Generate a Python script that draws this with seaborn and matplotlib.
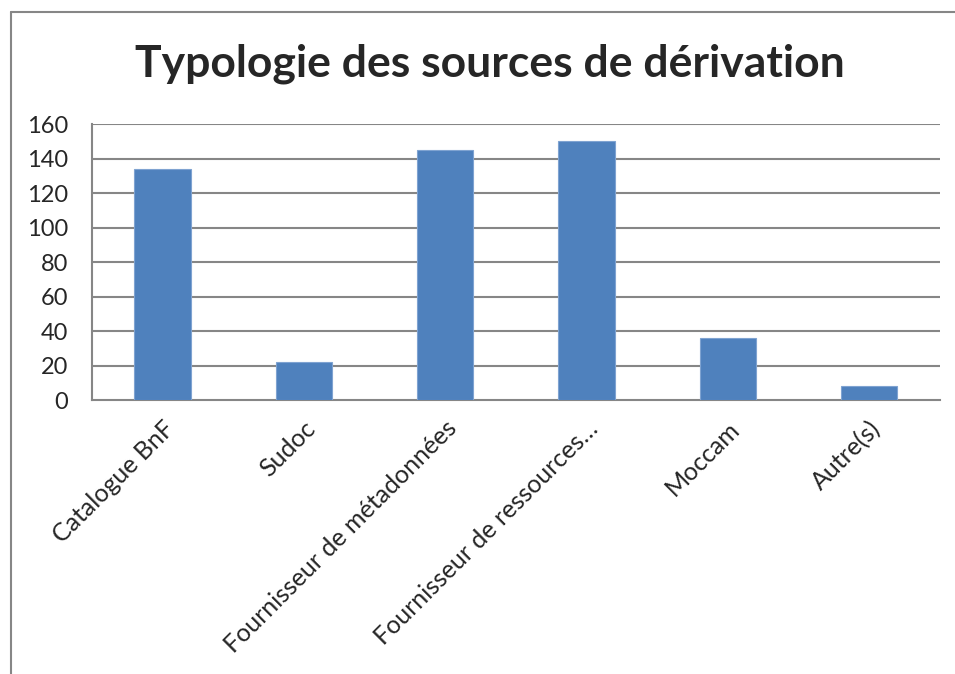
import matplotlib
matplotlib.use("Agg")
import matplotlib.pyplot as plt
import seaborn as sns
import pandas as pd
import numpy as np
from matplotlib.lines import Line2D

categories = ["Catalogue BnF", "Sudoc", "Fournisseur de métadonnées",
              "Fournisseur de ressources…", "Moccam", "Autre(s)"]
values = [134, 22, 145, 150, 36, 8]
y_ticks = [0, 20, 40, 60, 80, 100, 120, 140, 160]

sns.set_style("white")
plt.rcParams['font.family'] = ['Lato', 'DejaVu Sans']

df = pd.DataFrame({"source": categories, "count": values})

fig = plt.figure(figsize=(9.55, 6.74), dpi=100)
ax = fig.add_axes([0.0963, 0.4065, 0.8877, 0.4095])

grid_col = "#868686"
sns.barplot(data=df, x="source", y="count", color="#4F81BD", width=0.4,
            edgecolor="#7FA3D1", linewidth=0.8, saturation=1, ax=ax, zorder=3)

ax.set_ylim(0, 160)
ax.set_xlim(-0.5, len(categories) - 0.5)
ax.set_yticks(y_ticks)
ax.set_yticklabels([str(t) for t in y_ticks], fontsize=17)
for t in y_ticks[1:]:
    ax.axhline(t, color=grid_col, lw=1.5, zorder=1)

ax.set_xticks(range(len(categories)))
ax.set_xticklabels(categories, rotation=45, ha="right", rotation_mode="anchor", fontsize=18)
ax.set_xticks(np.arange(-0.5, len(categories)), minor=True)
ax.tick_params(axis="x", which="major", length=0, pad=12)
ax.tick_params(axis="x", which="minor", length=5, width=1.5, color=grid_col, direction="out")
ax.tick_params(axis="y", length=5, width=1.5, color=grid_col, direction="out", pad=12)
ax.set_xlabel("")
ax.set_ylabel("")

for s in ["top", "right"]:
    ax.spines[s].set_visible(False)
for s in ["left", "bottom"]:
    ax.spines[s].set_color(grid_col)
    ax.spines[s].set_linewidth(1.5)

fig.text(0.513, 0.906, "Typologie des sources de dérivation", ha="center", va="center",
         fontsize=32, fontweight="bold")

# outer chart frame
fig.add_artist(Line2D([10.5 / 955, 10.5 / 955], [0, 1 - 12 / 674], color=grid_col, lw=1.5))
fig.add_artist(Line2D([10.5 / 955, 1], [1 - 12 / 674, 1 - 12 / 674], color=grid_col, lw=1.5))

fig.savefig("out.png", dpi=100)
